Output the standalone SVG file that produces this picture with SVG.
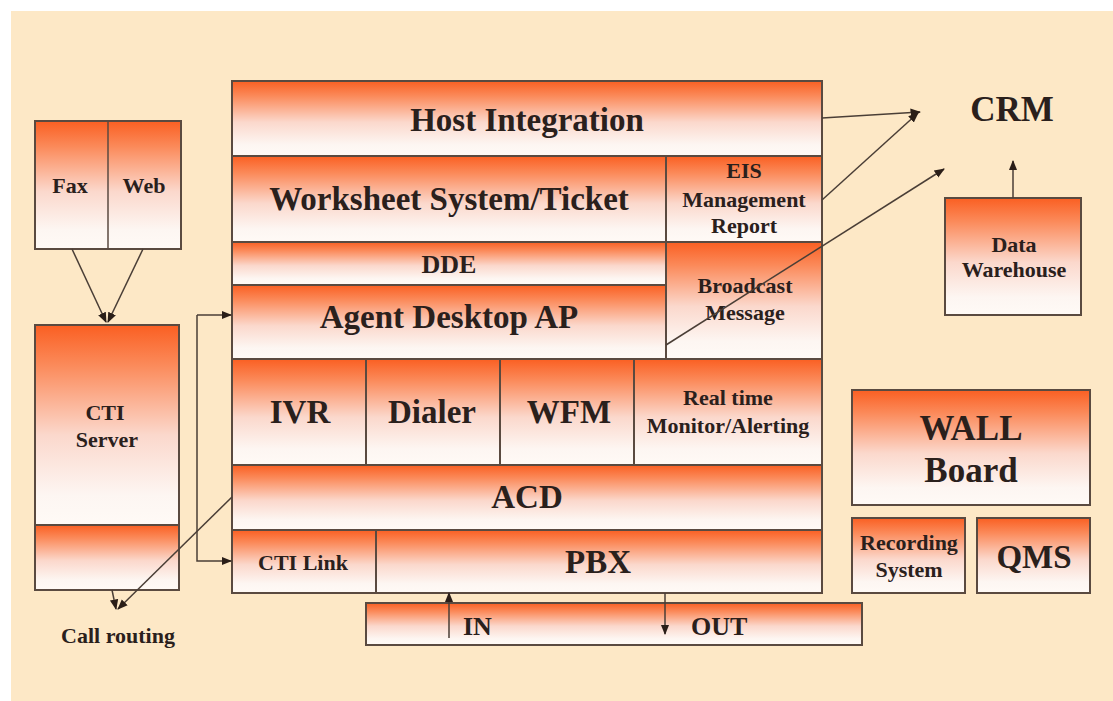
<svg xmlns="http://www.w3.org/2000/svg" width="1113" height="701" viewBox="0 0 1113 701">
  <defs>
    <linearGradient id="fill" x1="0" y1="0" x2="0" y2="1">
      <stop offset="0" stop-color="#fa5f22"/>
      <stop offset="0.2" stop-color="#fb8a5a"/>
      <stop offset="0.55" stop-color="#fbd8cc"/>
      <stop offset="0.85" stop-color="#fdf6f2"/>
      <stop offset="1" stop-color="#fffaf6"/>
    </linearGradient>
    <marker id="arrow" viewBox="0 0 10 10" refX="9" refY="5" markerWidth="7" markerHeight="7" orient="auto-start-reverse">
      <path d="M0,1 L10,5 L0,9 Z" fill="#2a1e18"/>
    </marker>
    <style>
      .box { fill: url(#fill); stroke: #5a4a40; stroke-width: 2; }
      .div { stroke: #5a4a40; stroke-width: 1.5; fill: none; }
      .t { font-family: "Liberation Serif", serif; font-weight: bold; fill: #2a201c; text-anchor: middle; }
      .xl { font-size: 35px; }
      .l { font-size: 33px; }
      .m { font-size: 26px; }
      .s { font-size: 22px; }
      .st { text-anchor: start; }
      .conn { stroke: #4a3e36; stroke-width: 1.5; fill: none; }
    </style>
  </defs>

  <!-- page background -->
  <rect x="0" y="0" width="1113" height="701" fill="#ffffff"/>
  <rect x="11" y="11" width="1102" height="690" fill="#fde8c6"/>

  <!-- main stack -->
  <g id="host-integration">
    <rect class="box" x="232" y="81" width="590" height="75"/>
    <text class="t l" x="527" y="131">Host Integration</text>
  </g>
  <g id="worksheet">
    <rect class="box" x="232" y="156" width="434" height="86"/>
    <text class="t l" x="449" y="210">Worksheet System/Ticket</text>
  </g>
  <g id="eis">
    <rect class="box" x="666" y="156" width="156" height="86"/>
    <text class="t s" x="744" y="178">EIS</text>
    <text class="t s" x="744" y="207">Management</text>
    <text class="t s" x="744" y="233">Report</text>
  </g>
  <g id="dde">
    <rect class="box" x="232" y="242" width="434" height="43"/>
    <text class="t m" x="449" y="273">DDE</text>
  </g>
  <g id="agent-desktop">
    <rect class="box" x="232" y="285" width="434" height="74"/>
    <text class="t l" x="449" y="328">Agent Desktop AP</text>
  </g>
  <g id="broadcast">
    <rect class="box" x="666" y="242" width="156" height="117"/>
    <text class="t s" x="745" y="293">Broadcast</text>
    <text class="t s" x="745" y="320">Message</text>
  </g>
  <g id="ivr">
    <rect class="box" x="232" y="359" width="134" height="106"/>
    <text class="t l" x="300" y="423">IVR</text>
  </g>
  <g id="dialer">
    <rect class="box" x="366" y="359" width="134" height="106"/>
    <text class="t l" x="432" y="423">Dialer</text>
  </g>
  <g id="wfm">
    <rect class="box" x="500" y="359" width="134" height="106"/>
    <text class="t l" x="569" y="423">WFM</text>
  </g>
  <g id="realtime">
    <rect class="box" x="634" y="359" width="188" height="106"/>
    <text class="t s" x="728" y="405">Real time</text>
    <text class="t s" x="728" y="433">Monitor/Alerting</text>
  </g>
  <g id="acd">
    <rect class="box" x="232" y="465" width="590" height="65"/>
    <text class="t l" x="527" y="508">ACD</text>
  </g>
  <g id="cti-link">
    <rect class="box" x="232" y="530" width="144" height="63"/>
    <text class="t s" x="303" y="570">CTI Link</text>
  </g>
  <g id="pbx">
    <rect class="box" x="376" y="530" width="446" height="63"/>
    <text class="t l" x="598" y="573">PBX</text>
  </g>
  <g id="in-out">
    <rect class="box" x="366" y="603" width="496" height="42"/>
    <text class="t m st" x="463" y="635">IN</text>
    <text class="t m st" x="691" y="635">OUT</text>
  </g>

  <!-- left side -->
  <g id="fax-web">
    <rect class="box" x="35" y="121" width="146" height="128"/>
    <line class="div" x1="108" y1="121" x2="108" y2="249"/>
    <text class="t s" x="70" y="193">Fax</text>
    <text class="t s" x="144" y="193">Web</text>
  </g>
  <g id="cti-server">
    <rect class="box" x="35" y="325" width="144" height="200"/>
    <rect class="box" x="35" y="525" width="144" height="65"/>
    <text class="t s" x="105" y="420">CTI</text>
    <text class="t s" x="107" y="447">Server</text>
  </g>
  <g id="call-routing">
    <text class="t s" x="118" y="643">Call routing</text>
  </g>

  <!-- right side -->
  <g id="crm">
    <text class="t xl" x="1012" y="121">CRM</text>
  </g>
  <g id="data-warehouse">
    <rect class="box" x="945" y="198" width="136" height="117"/>
    <text class="t s" x="1014" y="252">Data</text>
    <text class="t s" x="1014" y="277">Warehouse</text>
  </g>
  <g id="wall-board">
    <rect class="box" x="852" y="390" width="238" height="115"/>
    <text class="t xl" x="971" y="440">WALL</text>
    <text class="t xl" x="971" y="482">Board</text>
  </g>
  <g id="recording">
    <rect class="box" x="852" y="518" width="113" height="75"/>
    <text class="t s" x="909" y="550">Recording</text>
    <text class="t s" x="909" y="577">System</text>
  </g>
  <g id="qms">
    <rect class="box" x="977" y="518" width="113" height="75"/>
    <text class="t l" x="1034" y="568">QMS</text>
  </g>

  <!-- connectors -->
  <g id="connectors">
    <line class="conn" x1="72" y1="249" x2="106" y2="322" marker-end="url(#arrow)"/>
    <line class="conn" x1="143" y1="249" x2="108" y2="322" marker-end="url(#arrow)"/>
    <polyline class="conn" points="197,315 197,561 231,561" marker-end="url(#arrow)"/>
    <line class="conn" x1="197" y1="315" x2="231" y2="315" marker-end="url(#arrow)"/>
    <line class="conn" x1="232" y1="497" x2="118" y2="609" marker-end="url(#arrow)"/>
    <line class="conn" x1="112" y1="590" x2="116" y2="609" marker-end="url(#arrow)"/>
    <line class="conn" x1="822" y1="118" x2="920" y2="112" marker-end="url(#arrow)"/>
    <line class="conn" x1="822" y1="200" x2="918" y2="113" marker-end="url(#arrow)"/>
    <line class="conn" x1="666" y1="345" x2="944" y2="169" marker-end="url(#arrow)"/>
    <line class="conn" x1="1013" y1="198" x2="1013" y2="161" marker-end="url(#arrow)"/>
    <line class="conn" x1="449" y1="638" x2="449" y2="593" marker-end="url(#arrow)"/>
    <line class="conn" x1="665" y1="593" x2="665" y2="634" marker-end="url(#arrow)"/>
  </g>
</svg>
